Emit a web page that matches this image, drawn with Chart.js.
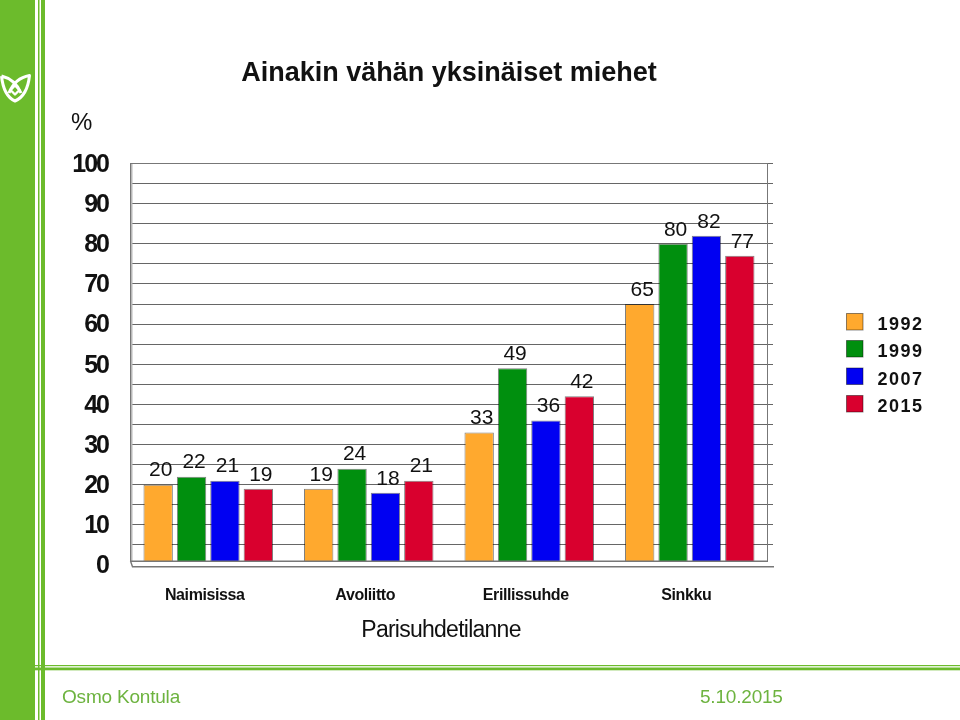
<!DOCTYPE html>
<html><head><meta charset="utf-8">
<style>html,body{margin:0;padding:0;background:#fff}canvas{display:block}</style>
<script src="https://cdn.jsdelivr.net/npm/chart.js@4/dist/chart.umd.min.js"></script>
</head><body><canvas id="c" width="960" height="720"></canvas>
<script>
const categories = ["Naimisissa", "Avoliitto", "Erillissuhde", "Sinkku"];
const seriesLabels = ["1992", "1999", "2007", "2015"];
const values1992 = [20, 19, 33, 65];
const values1999 = [22, 24, 49, 80];
const values2007 = [21, 18, 36, 82];
const values2015 = [19, 21, 42, 77];
const colors = ["#FFA92E", "#008F0E", "#0000F2", "#D9002E"];
const chartTitle = "Ainakin vähän yksinäiset miehet";
const yUnit = "%";
const xTitle = "Parisuhdetilanne";
const footerName = "Osmo Kontula";
const footerDate = "5.10.2015";
const GREEN = "#6CBB2C";
const FONT = '"Liberation Sans", Arial, sans-serif';

function spaced(spacing, dx, dy) {
  return function (scale) {
    if (scale.__wrapped) return;
    scale.__wrapped = true;
    const orig = scale.drawLabels;
    scale.drawLabels = function (area) {
      const ctx = this.ctx;
      ctx.save(); ctx.letterSpacing = spacing; ctx.translate(dx, dy);
      orig.call(this, area);
      ctx.restore();
    };
  };
}

const decor = {
  id: "decor",
  beforeDraw(chart) {
    const c = chart.ctx;
    c.save();
    c.fillStyle = GREEN;
    c.fillRect(0, 0, 35, 720);
    c.fillRect(38, 0, 1.5, 720);
    c.fillRect(41, 0, 4, 720);
    c.fillRect(35, 665, 925, 1.2);
    c.fillRect(35, 667.5, 925, 2.8);
    // logo
    c.strokeStyle = "#fff"; c.lineWidth = 3; c.lineJoin = "round";
    c.stroke(new Path2D("M1.5 76 C3 90 8 98 15 101 C22 98 28 90 29.5 75.5 C21 77 13 83 9 93 M1.5 76 C10 78 17 84 21 93"));
    c.lineWidth = 2.4;
    c.stroke(new Path2D("M15 85.5 L19.5 90 L15 94.5 L10.5 90 Z"));
    c.restore();
  },
  beforeDatasetsDraw(chart) {
    const c = chart.ctx;
    c.save();
    // left wall of the 3D frame
    c.fillStyle = "#fff"; c.fillRect(126, 160, 4, 410);
    c.fillStyle = "#B8B8B8"; c.fillRect(130, 163, 2.5, 398);
    c.strokeStyle = "#777"; c.lineWidth = 1;
    c.beginPath();
    c.moveTo(130, 163.5); c.lineTo(768, 163.5);
    c.moveTo(130.5, 163); c.lineTo(130.5, 561);
    c.moveTo(767.5, 163); c.lineTo(767.5, 561);
    c.stroke();
    c.restore();
  },
  afterDatasetsDraw(chart) {
    const c = chart.ctx;
    c.save();
    // floor of the 3D frame
    c.fillStyle = "#fff"; c.fillRect(126, 561.5, 650, 8);
    c.strokeStyle = "#777"; c.lineWidth = 1.4;
    c.beginPath();
    c.moveTo(130, 561.3); c.lineTo(768, 561.3);
    c.moveTo(130.5, 561); c.lineTo(132.5, 566.7); c.lineTo(774, 566.7);
    c.stroke();
    // value labels
    c.fillStyle = "#111"; c.font = "21px " + FONT;
    c.textAlign = "center"; c.textBaseline = "middle";
    chart.data.datasets.forEach((ds, i) => {
      chart.getDatasetMeta(i).data.forEach((bar, j) => {
        c.fillText(String(ds.data[j]), bar.x + 2.5, bar.y - 14);
      });
    });
    // unit and axis title
    c.font = "24px " + FONT; c.textAlign = "left";
    c.fillText(yUnit, 71, 123);
    c.letterSpacing = "-0.75px";
    c.font = "23px " + FONT; c.textAlign = "center";
    c.fillText(xTitle, 441, 630.5);
    c.letterSpacing = "0px";
    // legend
    chart.data.datasets.forEach((ds, i) => {
      const y = [313, 340, 367.5, 395][i];
      c.fillStyle = ds.backgroundColor;
      c.fillRect(846.5, y + .5, 16.5, 16.5);
      c.strokeStyle = "rgba(0,0,0,.45)"; c.lineWidth = 1;
      c.strokeRect(846.5, y + .5, 16.5, 16.5);
      c.fillStyle = "#111"; c.font = "bold 18px " + FONT;
      c.textAlign = "left"; c.letterSpacing = "1.5px";
      c.fillText(ds.label, 877.5, y + 12.5);
      c.letterSpacing = "0px";
    });
    // footer
    c.fillStyle = "#6DB33F"; c.font = "19px " + FONT; c.textAlign = "left";
    c.letterSpacing = "-0.2px";
    c.fillText(footerName, 62, 698);
    c.fillText(footerDate, 700, 698);
    c.restore();
  }
};

const valueLists = [values1992, values1999, values2007, values2015];
new Chart(document.getElementById("c"), {
  type: "bar",
  data: {
    labels: categories,
    datasets: seriesLabels.map((label, i) => ({
      label, data: valueLists[i], backgroundColor: colors[i],
      borderColor: "rgba(0,0,0,.5)", borderWidth: 1,
      categoryPercentage: 0.832, barPercentage: 0.88, yAxisID: "y"
    }))
  },
  options: {
    responsive: false, animation: false, devicePixelRatio: 1,
    layout: { padding: { left: 0, right: 187, top: 0, bottom: 0 } },
    plugins: {
      legend: { display: false },
      tooltip: { enabled: false },
      title: {
        display: true, text: chartTitle, fullSize: false, color: "#111",
        font: { family: FONT, size: 27, weight: "bold", lineHeight: 1.2 },
        padding: { top: 57.5, bottom: 73.6 }
      }
    },
    scales: {
      x: {
        grid: { display: false, drawTicks: false }, border: { display: false },
        ticks: { color: "#111", font: { family: FONT, size: 16, weight: "bold" }, padding: 20, autoSkip: false, maxRotation: 0 },
        afterFit(s) { s.height = 155; },
        afterUpdate: spaced("-0.4px", -3.5, 1)
      },
      y: {
        min: 0, max: 100,
        grid: { color: "#666", lineWidth: 1, drawTicks: false }, border: { display: false },
        ticks: {
          stepSize: 5, autoSkip: false, color: "#111", padding: 20,
          font: { family: FONT, size: 25, weight: "bold" },
          callback: v => v % 10 === 0 ? String(v) : ""
        },
        afterFit(s) { s.width = 128; },
        afterUpdate: spaced("-2px", 0, 1.5)
      },
      y2: {
        position: "right", min: 0, max: 100,
        grid: { color: "#666", drawOnChartArea: false, tickLength: 3 }, border: { display: false },
        ticks: { stepSize: 5, display: false },
        afterFit(s) { s.width = 3; }
      }
    }
  },
  plugins: [decor]
});
</script></body></html>
